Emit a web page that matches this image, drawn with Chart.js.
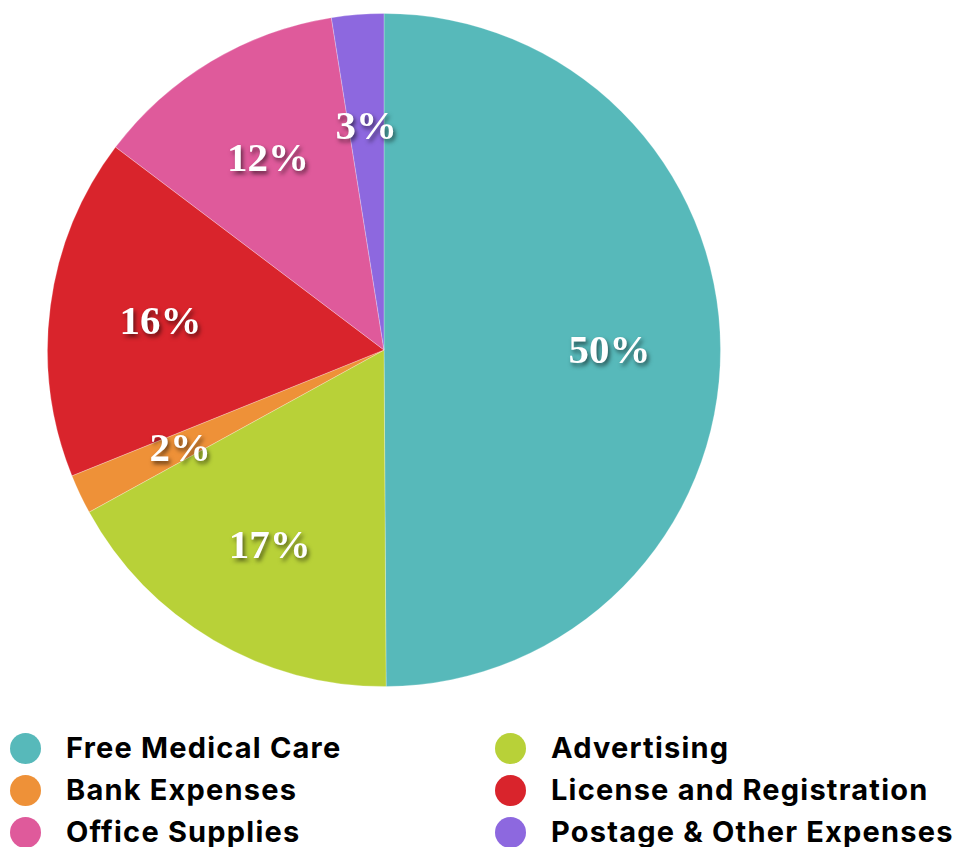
<!DOCTYPE html>
<html>
<head>
<meta charset="utf-8">
<script src="https://cdn.jsdelivr.net/npm/chart.js@4"></script>
<style>
  html, body { margin: 0; padding: 0; background: #fff; }
  body { width: 963px; height: 847px; position: relative; overflow: hidden; }
  #pieBox { position: absolute; left: 47px; top: 13px; width: 674px; height: 674px; }
  .item { position: absolute; font-family: Inter, "Liberation Sans", sans-serif; font-weight: 700;
          font-size: 29px; letter-spacing: 1.2px; color: #000; white-space: nowrap; line-height: 1; }
  .dot { position: absolute; width: 31px; height: 31px; border-radius: 50%; }
</style>
</head>
<body>
<div id="pieBox"><canvas id="pie"></canvas></div>
<div id="legend"></div>
<script>
// categories + values (percent)
const categories = ['Free Medical Care', 'Advertising', 'Bank Expenses',
    'License and Registration', 'Office Supplies', 'Postage & Other Expenses'];
const values = [49.9, 17.1, 1.9, 16.4, 12.2, 2.5];
const colors = ['#57b9ba', '#b8d138', '#ee9138', '#d9242c', '#df5a9b', '#8d68df'];

// legend order as in the picture (left column, right column)
const legendOrder = [0, 2, 4, 1, 3, 5];

/*labels inside slices*/
const sliceLabels = {
    id: 'sliceLabels',
    afterDatasetsDraw(chart) {
        const ctx = chart.ctx;
        const meta = chart.getDatasetMeta(0);
        const total = values.reduce((a, b) => a + b, 0);
        ctx.save();
        ctx.font = 'bold 41px "Liberation Serif", serif';
        ctx.fillStyle = '#fff';
        ctx.textAlign = 'center';
        ctx.textBaseline = 'alphabetic';
        ctx.shadowColor = 'rgba(0,0,0,0.55)';
        ctx.shadowOffsetX = 2;
        ctx.shadowOffsetY = 3;
        ctx.shadowBlur = 4;
        meta.data.forEach((arc, i) => {
            const p = arc.getProps(['x', 'y', 'startAngle', 'endAngle', 'outerRadius'], true);
            const mid = (p.startAngle + p.endAngle) / 2;
            const r = p.outerRadius * 0.67;
            const x = p.x + Math.cos(mid) * r;
            const y = p.y + Math.sin(mid) * r;
            const txt = Math.round(values[i] / total * 100) + '%';
            ctx.fillText(txt, x, y + 14);
        });
        ctx.restore();
    }
};

const ctx = document.getElementById('pie').getContext('2d');
new Chart(ctx, {
    type: 'pie',
    data: {
        labels: categories,
        datasets: [{
            data: values,
            backgroundColor: colors,
            borderColor: 'rgba(255,255,255,0.25)',
            borderWidth: 1
        }]
    },
    options: {
        responsive: true,
        maintainAspectRatio: false,
        animation: false,
        layout: { padding: 0 },
        plugins: {
            legend: { display: false },
            tooltip: { enabled: false }
        }
    },
    plugins: [sliceLabels]
});

// html legend, two columns
const legend = document.getElementById('legend');
legendOrder.forEach((idx, n) => {
    const col = Math.floor(n / 3);
    const row = n % 3;
    const cy = 748 + row * 42;
    const dotX = col === 0 ? 10 : 495;
    const textX = col === 0 ? 66 : 551;
    const dot = document.createElement('div');
    dot.className = 'dot';
    dot.style.left = dotX + 'px';
    dot.style.top = (cy - 15.5) + 'px';
    dot.style.background = colors[idx];
    legend.appendChild(dot);
    const t = document.createElement('div');
    t.className = 'item';
    t.style.left = textX + 'px';
    t.style.top = (cy - 15) + 'px';
    t.textContent = categories[idx];
    legend.appendChild(t);
});
</script>
</body>
</html>
